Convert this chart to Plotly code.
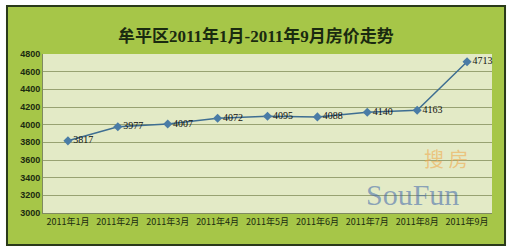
import plotly.graph_objects as go

months = ["2011年1月", "2011年2月", "2011年3月", "2011年4月", "2011年5月",
          "2011年6月", "2011年7月", "2011年8月", "2011年9月"]
prices = [3817, 3977, 4007, 4072, 4095, 4088, 4140, 4163, 4713]
y_ticks = [3000, 3200, 3400, 3600, 3800, 4000, 4200, 4400, 4600, 4800]
title_text = "牟平区2011年1月-2011年9月房价走势"

fig = go.Figure()
fig.add_trace(go.Scatter(
    x=list(range(len(months))), y=prices,
    mode="lines+markers+text",
    text=[str(v) for v in prices],
    textposition="middle right",
    textfont=dict(family="Liberation Serif, Noto Sans CJK SC", size=10, color="#111111"),
    line=dict(color="#3E6E92", width=1.5),
    marker=dict(symbol="diamond", size=7, color="#4A7CA6"),
    cliponaxis=False,
    showlegend=False,
))

# green outer frame
fig.add_shape(type="rect", xref="paper", yref="paper",
              x0=-0.0802, x1=1.029, y0=-0.201, y1=1.302,
              fillcolor="#A6C648", line=dict(color="#2A3A1A", width=2), layer="below")
# plot area background
fig.add_shape(type="rect", xref="paper", yref="paper",
              x0=0, x1=1, y0=0, y1=1,
              fillcolor="#E3EAC6", line=dict(width=0), layer="below")

fig.add_annotation(text="<b>" + title_text + "</b>", xref="paper", yref="paper",
                   x=0.475, y=1.19, showarrow=False,
                   font=dict(family="Liberation Serif, Noto Sans CJK SC", size=17, color="#1A2A10"))

# watermark
fig.add_annotation(text="搜 房", xref="paper", yref="paper", x=0.95, y=0.24,
                   showarrow=False, font=dict(family="Noto Sans CJK SC", size=20, color="rgba(240,170,80,0.6)"))
fig.add_annotation(text="SouFun", xref="paper", yref="paper", x=0.93, y=0.0,
                   showarrow=False, font=dict(family="Liberation Serif", size=30, color="rgba(60,100,170,0.55)"))

fig.update_xaxes(
    range=[-0.5, 8.5],
    tickmode="array", tickvals=list(range(len(months))), ticktext=months,
    tickfont=dict(family="Noto Sans CJK SC", size=9, color="#1A2A10"),
    showgrid=False, zeroline=False, showline=True, linecolor="#7F8A60", linewidth=1,
    ticks="", fixedrange=True,
)
fig.update_yaxes(
    range=[3000, 4800],
    tickmode="array", tickvals=y_ticks,
    ticktext=["<b>%d</b>" % v for v in y_ticks],
    tickfont=dict(family="Liberation Sans", size=9, color="#1A2A10"),
    showgrid=True, gridcolor="#98A272", gridwidth=1,
    showline=True, linecolor="#7F8A60", linewidth=1,
    zeroline=False, ticks="",
)

fig.update_layout(
    width=512, height=251,
    margin=dict(l=43, r=20, t=54, b=38),
    paper_bgcolor="white",
    plot_bgcolor="rgba(0,0,0,0)",
    showlegend=False,
)

fig.write_html("out.html")
